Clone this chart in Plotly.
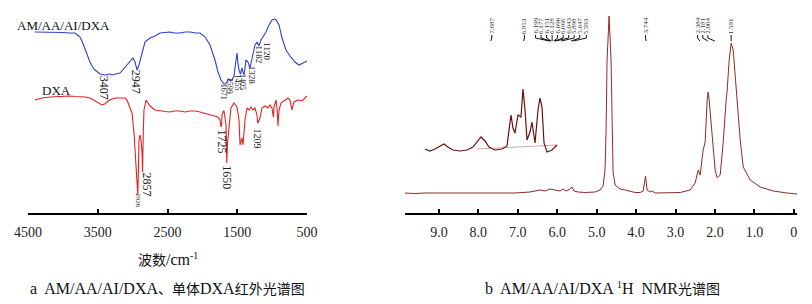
import plotly.graph_objects as go

W, H = 812, 304

# ---------------- IR data (wavenumber cm-1, transmittance a.u.) ----------------
ir_wn_copoly = [4400, 4300, 4200, 4100, 4000, 3900, 3826, 3790, 3754, 3720, 3683, 3650, 3611, 3575, 3539, 3500,
                3468, 3430, 3396, 3360, 3324, 3290, 3253, 3215, 3181, 3145, 3109, 3070, 3038, 2995, 2966, 2947,
                2937, 2909, 2866, 2823, 2751, 2679, 2608, 2540, 2464, 2400, 2321, 2250, 2177, 2100, 2034, 1960,
                1891, 1819, 1776, 1733, 1690, 1671, 1661, 1640, 1618, 1599, 1575, 1547, 1518, 1504, 1490, 1475,
                1455, 1446, 1432, 1418, 1403, 1375, 1346, 1317, 1289, 1246, 1217, 1189, 1160, 1131, 1088, 1045,
                1002, 970, 944, 901, 858, 801, 744, 672, 615, 557, 520, 500]
ir_t_copoly = [181, 181, 180.5, 181, 180.5, 180, 180, 178, 176, 171, 165, 158, 151, 146, 143, 140.5,
               139, 138.5, 138, 138.5, 139, 138, 139, 139.5, 140, 143, 146, 149, 152, 155, 151, 144,
               143, 148, 161, 171, 175, 177, 180, 180.5, 181, 180, 180, 181, 181, 180, 180, 176,
               168, 153, 141, 133, 129, 129, 130, 132, 134, 132, 133, 137, 151, 160, 150, 143,
               139, 141, 145, 141, 138, 153, 151, 145, 155, 168, 171, 167, 173, 176, 181, 188,
               193, 194, 193, 188, 175, 163, 157, 151, 148, 150, 151, 152]

ir_wn_dxa = [4400, 4300, 4185, 4050, 3898, 3820, 3754, 3680, 3611, 3560, 3511, 3470, 3439, 3400, 3367, 3330,
             3296, 3240, 3181, 3109, 3081, 3052, 3009, 2980, 2966, 2945, 2926, 2915, 2909, 2895, 2880, 2865,
             2857, 2848, 2837, 2808, 2780, 2751, 2679, 2608, 2530, 2464, 2400, 2321, 2250, 2177, 2100, 2034,
             1960, 1891, 1830, 1776, 1747, 1733, 1725, 1719, 1700, 1690, 1661, 1650, 1640, 1618, 1590, 1547,
             1504, 1475, 1460, 1446, 1432, 1418, 1389, 1360, 1332, 1303, 1274, 1246, 1217, 1209, 1203, 1174,
             1145, 1102, 1059, 1030, 1002, 987, 980, 973, 944, 930, 920, 916, 910, 901, 873, 815,
             772, 744, 725, 715, 700, 687, 629, 572, 529, 500]
ir_t_dxa = [113, 115, 116, 116.5, 117, 116.5, 116.5, 116, 115, 113, 111, 109, 108, 109, 111, 113,
            114, 115, 115, 115, 113, 108, 100, 80, 63, 45, 18, 50, 73, 78, 73, 60,
            41, 80, 103, 113, 110, 107, 103, 102, 101.5, 101, 102, 102, 101, 102, 102, 101,
            99.5, 98, 97, 96, 93, 86, 88, 98, 102, 102, 88, 50, 70, 83, 105, 110,
            106, 93, 68, 72, 75, 68, 93, 105, 103, 106, 103, 105, 98, 91, 90, 95,
            105, 107, 105, 108, 105, 98, 96, 106, 113, 105, 90, 87, 95, 103, 110, 113,
            115, 113, 108, 103, 108, 111, 113, 112, 115, 117]

ir_ticks = [4500, 3500, 2500, 1500, 500]

# IR peak labels: text, wavenumber, label centre (transmittance), font size, x shift
ir_labels_copoly = [("3407", 3407, 125, 12, 0), ("2947", 2947, 131, 12, 0), ("1671", 1671, 121, 8, -1),
                    ("1599", 1599, 127, 8, 0), ("1455", 1455, 130, 8, -2), ("1405", 1405, 131, 8, -1),
                    ("1328", 1328, 138, 9, 3), ("1182", 1182, 158, 9, 0), ("1120", 1120, 162, 9, 3)]
ir_labels_dxa = [("2926", 2926, 12, 7, 0), ("2857", 2857, 29, 12, 4), ("1725", 1725, 72, 12, 0),
                 ("1650", 1650, 36, 12, 0), ("1209", 1209, 75, 10, 0)]

# ---------------- 1H NMR data (ppm, intensity a.u.) ----------------
nmr_ppm = [9.863, 9.609, 9.355, 8.975, 8.594, 8.213, 7.832, 7.452, 7.071, 6.690, 6.437, 6.310, 6.183, 6.056,
           5.929, 5.853, 5.777, 5.675, 5.624, 5.574, 5.472, 5.294, 5.041, 4.914, 4.838, 4.787, 4.761, 4.736,
           4.685, 4.635, 4.609, 4.584, 4.533, 4.406, 4.279, 4.152, 4.025, 3.898, 3.822, 3.760, 3.721, 3.645,
           3.594, 3.518, 3.137, 2.883, 2.629, 2.503, 2.425, 2.376, 2.299, 2.249, 2.198, 2.173, 2.147, 2.071,
           2.046, 1.995, 1.944, 1.868, 1.792, 1.716, 1.690, 1.640, 1.589, 1.538, 1.487, 1.437, 1.360, 1.284,
           1.107, 0.853, 0.523, 0.168, -0.086]
nmr_int = [0, -0.5, 0, 0, 0, 0, 0.5, 0, 0, 1, 3, 2, 4, 3,
           2, 4, 2, 4, 6, 2, 1, 0.5, 1, 3, 7, 23, 63, 133,
           177, 133, 63, 21, 8, 4, 3, 1.5, 0.5, 0.5, 2, 17, 3, 1,
           2, 0, 0, 0.5, 3, 10, 23, 18, 43, 51, 93, 101, 93, 50,
           46, 23, 15, 18, 50, 93, 103, 133, 150, 143, 116, 86, 53, 26,
           13, 6, 2, 0, -1]

# expanded aromatic / vinyl region (inset)
inset_ppm = [9.355, 9.228, 9.102, 8.975, 8.873, 8.772, 8.645, 8.467, 8.289, 8.137, 8.036, 7.934, 7.832, 7.731,
             7.579, 7.401, 7.274, 7.223, 7.173, 7.122, 7.071, 6.995, 6.919, 6.868, 6.817, 6.766, 6.690, 6.640,
             6.563, 6.487, 6.437, 6.386, 6.335, 6.259, 6.132, 6.005]
inset_int = [0, -2, 0, 3, 5, 2, -1, -2, -1, 2, 7, 12, 8, 2,
             -1, 0, 3, 19, 34, 21, 16, 34, 32, 60, 39, 9, 17, 27,
             6, 39, 51, 42, 6, -3, -1, 4]
inset_base_ppm = [8.04, 6.00]
inset_base_int = [0, 4]

nmr_ticks = [9, 8, 7, 6, 5, 4, 3, 2, 1, 0]
nmr_ticktext = ["9.0", "8.0", "7.0", "6.0", "5.0", "4.0", "3.0", "2.0", "1.0", "0"]

# NMR peak labels: text, label position (ppm), peak position (ppm)
nmr_labels = [("7.687", 7.66, 7.687), ("6.853", 6.83, 6.853),
              ("6.199", 6.55, 6.199), ("6.177", 6.41, 6.177), ("6.151", 6.27, 6.151), ("6.128", 6.13, 6.128),
              ("6.090", 5.99, 6.090), ("6.066", 5.85, 6.066), ("6.043", 5.71, 6.043), ("5.898", 5.57, 5.898),
              ("5.647", 5.43, 5.647), ("5.593", 5.26, 5.593),
              ("3.744", 3.76, 3.744), ("2.384", 2.44, 2.384), ("2.181", 2.31, 2.181), ("2.004", 2.18, 2.004),
              ("1.591", 1.59, 1.591)]

SERIF = "Liberation Serif, Times New Roman, serif"
CJK = "Liberation Serif, Noto Sans CJK SC, serif"
BLUE = "#2E3FCC"
RED = "#E32222"
NMR_C = "#8E2A2A"

def px(x):
    return x / W

def py(y):
    return 1 - y / H

def lat(s, size=16):
    return '<span style="font-size:%dpx">%s</span>' % (size, s)

ydom = [91 / H, 1]

fig = go.Figure()
fig.add_trace(go.Scatter(x=ir_wn_copoly, y=ir_t_copoly, mode="lines", line=dict(color=BLUE, width=1.1),
                         xaxis="x", yaxis="y", hoverinfo="skip"))
fig.add_trace(go.Scatter(x=ir_wn_dxa, y=ir_t_dxa, mode="lines", line=dict(color=RED, width=1.1),
                         xaxis="x", yaxis="y", hoverinfo="skip"))
fig.add_trace(go.Scatter(x=nmr_ppm, y=nmr_int, mode="lines", line=dict(color=NMR_C, width=1),
                         xaxis="x2", yaxis="y2", hoverinfo="skip"))
fig.add_trace(go.Scatter(x=inset_base_ppm, y=inset_base_int, mode="lines", line=dict(color="#C89090", width=0.8),
                         xaxis="x2", yaxis="y3", hoverinfo="skip"))
fig.add_trace(go.Scatter(x=inset_ppm, y=inset_int, mode="lines", line=dict(color="#6E0F0F", width=1.2),
                         xaxis="x2", yaxis="y3", hoverinfo="skip"))

axis_common = dict(showline=True, linecolor="black", linewidth=2, ticks="inside", ticklen=4, tickwidth=1.5,
                   tickcolor="black", showgrid=False, zeroline=False, automargin=False,
                   tickfont=dict(family=SERIF, size=14, color="#222"), ticklabelstandoff=5)

fig.update_layout(
    width=W, height=H, margin=dict(l=0, r=0, t=0, b=0, pad=0, autoexpand=False),
    paper_bgcolor="white", plot_bgcolor="white", showlegend=False,
    xaxis=dict(domain=[28 / W, 307 / W], range=[4500, 500], tickvals=ir_ticks,
               ticktext=[str(v) for v in ir_ticks], anchor="y", **axis_common),
    yaxis=dict(domain=ydom, range=[0, 213], visible=False, anchor="x"),
    xaxis2=dict(domain=[405 / W, 797 / W], range=[9.86, -0.08], tickvals=nmr_ticks, ticktext=nmr_ticktext,
                anchor="y2", **axis_common),
    yaxis2=dict(domain=ydom, range=[-20, 193], visible=False, anchor="x2"),
    yaxis3=dict(domain=ydom, range=[-64, 149], visible=False, anchor="x2", overlaying="y2"),
)

ann = []
# series names
ann.append(dict(x=px(15), y=py(25), xref="paper", yref="paper", text="AM/AA/AI/DXA", showarrow=False,
                xanchor="left", yanchor="middle", font=dict(family=SERIF, size=13, color="#111")))
ann.append(dict(x=px(40), y=py(90), xref="paper", yref="paper", text="DXA", showarrow=False,
                xanchor="left", yanchor="middle", font=dict(family=SERIF, size=13, color="#111")))
# IR peak labels
for txt, wn, yv, fs, sh in ir_labels_copoly + ir_labels_dxa:
    ann.append(dict(x=wn, y=yv, xref="x", yref="y", text=txt, showarrow=False, textangle=90,
                    xanchor="center", yanchor="middle", xshift=sh,
                    font=dict(family=SERIF, size=fs, color="#222")))
# NMR labels
shapes = []
for txt, lp, pp in nmr_labels:
    ann.append(dict(x=lp, y=py(26), xref="x2", yref="paper", text=txt, showarrow=False, textangle=-90,
                    xanchor="center", yanchor="middle", font=dict(family=SERIF, size=7, color="#333")))
    shapes.append(dict(type="line", xref="x2", yref="paper", x0=lp, x1=lp, y0=py(35), y1=py(38),
                       line=dict(color="#111", width=1)))
    shapes.append(dict(type="line", xref="x2", yref="paper", x0=lp, x1=pp, y0=py(38), y1=py(41),
                       line=dict(color="#111", width=1)))
# axis titles & captions
ann.append(dict(x=px(168), y=py(259), xref="paper", yref="paper",
                text="波数" + lat("/cm", 16) + "<sup>-1</sup>", showarrow=False,
                xanchor="center", yanchor="middle", font=dict(family=CJK, size=14, color="#111")))
ann.append(dict(x=px(167), y=py(288), xref="paper", yref="paper",
                text=lat("a  AM/AA/AI/DXA") + "、单体" + lat("DXA") + "红外光谱图",
                showarrow=False, xanchor="center", yanchor="middle", font=dict(family=CJK, size=14, color="#111")))
ann.append(dict(x=px(602), y=py(288), xref="paper", yref="paper",
                text=lat("b  AM/AA/AI/DXA ") + "<sup>1</sup>" + lat("H  NMR") + "光谱图",
                showarrow=False, xanchor="center", yanchor="middle", font=dict(family=CJK, size=14, color="#111")))

fig.update_layout(annotations=ann, shapes=shapes)
fig.write_html("out.html", config={"displayModeBar": False},
               post_script="document.body.style.margin='0px';document.body.style.padding='0px';")
